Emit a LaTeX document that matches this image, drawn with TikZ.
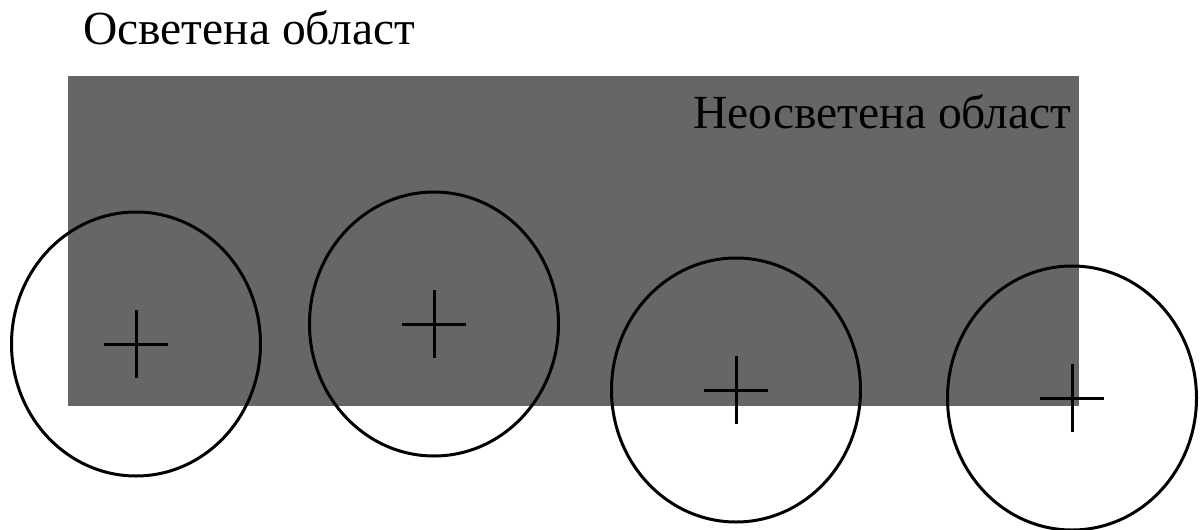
\documentclass[tikz,border=0pt]{standalone}
\usepackage{fontspec}
\setmainfont{Liberation Serif}
\usetikzlibrary{calc}
\definecolor{unlitgray}{RGB}{102,102,102}
\tikzset{
  ring/.style={draw=black, line width=3pt},
  crossline/.style={draw=black, line width=3pt},
  lbl/.style={anchor=base west, inner sep=0pt, font=\fontsize{47.5}{47.5}\selectfont, text=black}
}
\begin{document}
\begin{tikzpicture}[x=1pt,y=-1pt]
\useasboundingbox[fill=white] (0,0) rectangle (1200,530);
\fill[unlitgray] (68,76) rectangle (1079,406);
\node[lbl] (lit) at (83,44) {Осветена област};
\node[lbl] (unlit) at (693,128) {Неосветена област};
\foreach \n/\cx/\cy in {a/136/344, b/434/324, c/736/390, d/1072/398}{
  \coordinate (\n) at (\cx,\cy);
  \draw[ring] (\n) ellipse [x radius=124.5, y radius=132];
  \draw[crossline] ($(\n)+(-32,0)$) -- ($(\n)+(32,0)$);
  \draw[crossline] ($(\n)+(0,-34)$) -- ($(\n)+(0,34)$);
}
\end{tikzpicture}
\end{document}
